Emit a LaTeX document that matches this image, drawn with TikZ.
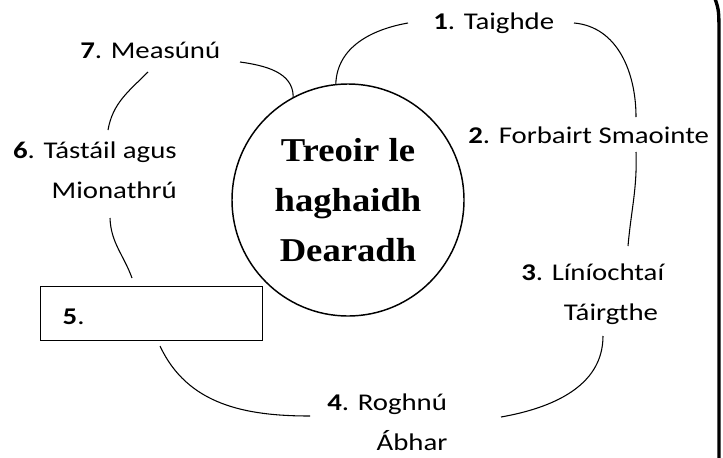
\documentclass[tikz,border=0pt]{standalone}
\usepackage{fontspec}
\setmainfont{Carlito}[FakeStretch=1.2]
\newfontfamily\titlefont{Liberation Serif}[FakeStretch=1.1]

\begin{document}
\begin{tikzpicture}[x=0.75pt,y=0.75pt,
  stage/.style={font=\fontsize{18}{30}\selectfont,inner sep=0pt},
  link/.style={line width=0.8pt}]
\useasboundingbox (0,0) rectangle (723,-457);

\node[circle,draw,line width=1.1pt,minimum size=174pt,inner sep=0pt,align=center,font=\titlefont\bfseries\fontsize{25}{37.5}\selectfont] (hub) at (348,-200) {Treoir le\\haghaidh\\Dearadh};

\node[stage,anchor=base west] (s1) at (433,-29) {\textbf{1}. Taighde};
\node[stage,anchor=base west] (s2) at (468,-143) {\textbf{2}. Forbairt Smaointe};
\node[stage,anchor=base west,align=left] (s3) at (521,-320) {\textbf{3}. Líníochtaí\\\hspace*{32pt}Táirgthe};
\node[stage,anchor=base west,align=left] (s4) at (327,-450) {\textbf{4}. Roghnú\\\hspace*{37pt}Ábhar};
\node[stage,draw,line width=1.1pt,anchor=north west,minimum height=40.5pt,text width=133.5pt,text height=16.5pt,text depth=0pt,inner xsep=16.5pt,align=left] (s5) at (40,-286) {\textbf{5}.};
\node[stage,anchor=base east,align=right] (s6) at (177,-198) {\textbf{6}. Tástáil agus\\Mionathrú};
\node[stage,anchor=base west] (s7) at (80,-58) {\textbf{7}. Measúnú};

% free ends of the arcs
\coordinate (e7) at (240,-62);
\coordinate (e1a) at (408,-23);
\coordinate (e1b) at (574,-23);
\coordinate (e2a) at (636,-117);
\coordinate (e2b) at (636,-152);
\coordinate (e3a) at (628,-246);
\coordinate (e3b) at (603,-336);
\coordinate (e4b) at (501,-417);
\coordinate (e4a) at (310,-416);
\coordinate (e5b) at (160,-346);
\coordinate (e5a) at (132,-278);
\coordinate (e6b) at (110,-218);
\coordinate (e6a) at (108,-130);
\coordinate (e7b) at (148,-72);

\draw[link] (e7) to[out=-8,in=90] (hub.118);
\draw[link] (hub.96) to[out=88,in=190] (e1a);
\draw[link] (e1b) to[out=-5,in=90] (e2a);
\draw[link] (e2b) to[out=-88,in=85] (e3a);
\draw[link] (e3b) to[out=-90,in=10] (e4b);
\draw[link] (e4a) to[out=180,in=-65] (e5b);
\draw[link] (e5a) to[out=110,in=-88] (e6b);
\draw[link] (e6a) to[out=80,in=-135] (e7b);

\draw[line width=2.5pt] (714.5,3) .. controls (718.8,-10) .. (719,-30) -- (719,-462);

\end{tikzpicture}
\end{document}
